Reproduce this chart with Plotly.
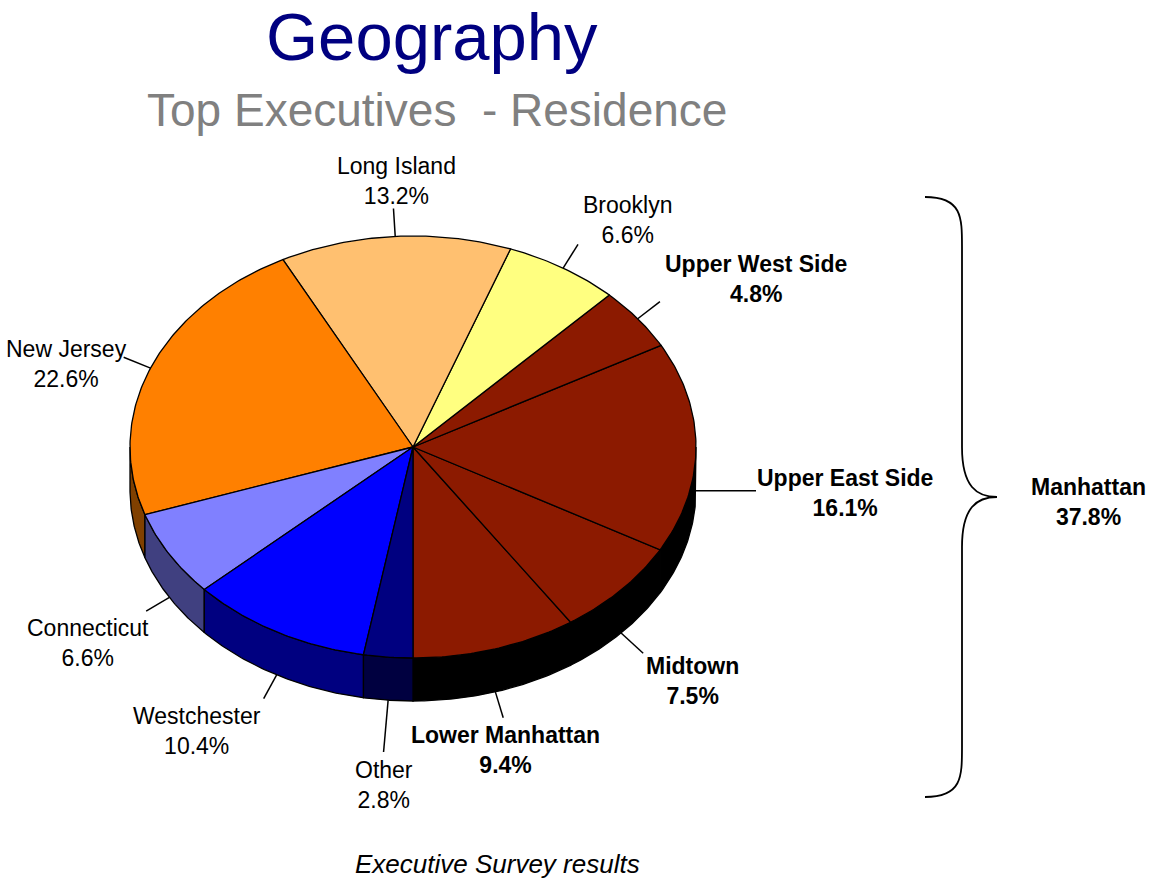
import numpy as np
import plotly.graph_objects as go

# ---- data -------------------------------------------------------------
categories = ["Lower Manhattan", "Midtown", "Upper East Side", "Upper West Side",
              "Brooklyn", "Long Island", "New Jersey", "Connecticut",
              "Westchester", "Other"]
shares = [9.4, 7.5, 16.1, 4.8, 6.6, 13.2, 22.6, 6.6, 10.4, 2.8]
manhattan_areas = ["Lower Manhattan", "Midtown", "Upper East Side", "Upper West Side"]

title_text = "Geography"
subtitle_text = "Top Executives\u00a0 - Residence"
footer_text = "Executive Survey results"

# ---- styling ----------------------------------------------------------
top_colors = {
    "Lower Manhattan": "#8C1A00", "Midtown": "#8C1A00", "Upper East Side": "#8C1A00",
    "Upper West Side": "#8C1A00", "Brooklyn": "#FFFF80", "Long Island": "#FFC070",
    "New Jersey": "#FF8000", "Connecticut": "#8080FF", "Westchester": "#0000FF",
    "Other": "#000080",
}
side_colors = {
    "Lower Manhattan": "#000000", "Midtown": "#000000", "Upper East Side": "#000000",
    "Upper West Side": "#000000", "Brooklyn": "#808040", "Long Island": "#806038",
    "New Jersey": "#804000", "Connecticut": "#404080", "Westchester": "#000080",
    "Other": "#000040",
}
# label placement (pixel canvas) and leader-line length
label_layout = {
    "Lower Manhattan": (505, 750, 27), "Midtown": (692, 681, 30),
    "Upper East Side": (845, 493, 60), "Upper West Side": (756, 279, 28),
    "Brooklyn": (627, 220, 28), "Long Island": (396, 181, 28),
    "New Jersey": (66, 364, 29), "Connecticut": (88, 643, 27),
    "Westchester": (197, 731, 27), "Other": (384, 785, 52),
}

W, H = 1155, 878
CX, CY = 413, 447          # pie centre
RX, RY = 283, 211          # ellipse radii of the top face
DEPTH = 43                 # thickness of the pie
FONT = "Liberation Sans, Arial, sans-serif"
LABEL_SIZE = 23


def rim(theta):
    """Point on the top rim; theta measured from 6 o'clock, turning counter-clockwise."""
    return CX + RX * np.sin(theta), CY + RY * np.cos(theta)


total = sum(shares)
bounds = np.concatenate([[0.0], np.cumsum(shares)]) / total * 2 * np.pi

fig = go.Figure()

# side walls (only the front half of the pie is visible)
front_ranges = [(0.0, np.pi / 2), (1.5 * np.pi, 2 * np.pi)]
for name, a, b in zip(categories, bounds[:-1], bounds[1:]):
    for lo, hi in front_ranges:
        s, e = max(a, lo), min(b, hi)
        if e <= s:
            continue
        t = np.linspace(s, e, 60)
        x, y = rim(t)
        px = np.concatenate([x, x[::-1], x[:1]])
        py = np.concatenate([y, y[::-1] + DEPTH, y[:1]])
        fig.add_trace(go.Scatter(
            x=px, y=py, mode="lines", fill="toself",
            fillcolor=side_colors[name], line=dict(color="black", width=1.3),
            hoverinfo="skip", showlegend=False))

# top faces
for name, a, b in zip(categories, bounds[:-1], bounds[1:]):
    t = np.linspace(a, b, max(8, int((b - a) * 80)))
    x, y = rim(t)
    px = np.concatenate([[CX], x, [CX]])
    py = np.concatenate([[CY], y, [CY]])
    fig.add_trace(go.Scatter(
        x=px, y=py, mode="lines", fill="toself",
        fillcolor=top_colors[name], line=dict(color="black", width=1.3),
        hoverinfo="skip", showlegend=False, name=name))

# leader lines and labels
annotations = []
shapes = []
for name, v, a, b in zip(categories, shares, bounds[:-1], bounds[1:]):
    tm = (a + b) / 2
    sx, sy = rim(tm)
    if np.cos(tm) > 0:
        sy += DEPTH
    lx, ly, length = label_layout[name]
    ex, ey = sx + length * np.sin(tm), sy + length * np.cos(tm)
    shapes.append(dict(type="line", xref="x", yref="y", x0=sx, y0=sy, x1=ex, y1=ey,
                       line=dict(color="black", width=1.5)))
    txt = f"{name}<br>{v:.1f}%"
    if name in manhattan_areas:
        txt = f"<b>{txt}</b>"
    annotations.append(dict(x=lx, y=ly, xref="x", yref="y", text=txt, showarrow=False,
                            xanchor="center", yanchor="middle", align="center",
                            font=dict(family=FONT, size=LABEL_SIZE, color="black")))

# Manhattan total with a curly brace
manhattan_total = sum(v for n, v in zip(categories, shares) if n in manhattan_areas)
bx0, bx1, btip = 925, 962, 997
by0, bym, by1 = 197, 497, 797
brace = (f"M {bx0},{by0} C {bx1},{by0} {bx1},{by0+20} {bx1},{by0+50} "
         f"L {bx1},{bym-50} C {bx1},{bym-10} {btip-20},{bym} {btip},{bym} "
         f"C {btip-20},{bym} {bx1},{bym+10} {bx1},{bym+50} "
         f"L {bx1},{by1-50} C {bx1},{by1-20} {bx1},{by1} {bx0},{by1}")
shapes.append(dict(type="path", xref="x", yref="y", path=brace,
                   line=dict(color="black", width=1.8)))
annotations.append(dict(x=1088, y=502, xref="x", yref="y",
                        text=f"<b>Manhattan<br>{manhattan_total:.1f}%</b>",
                        showarrow=False, xanchor="center", yanchor="middle",
                        font=dict(family=FONT, size=LABEL_SIZE, color="black")))

# titles
annotations.append(dict(x=432, y=36, xref="x", yref="y", text=title_text, showarrow=False,
                        xanchor="center", yanchor="middle",
                        font=dict(family=FONT, size=67, color="#000080")))
annotations.append(dict(x=437, y=110, xref="x", yref="y", text=subtitle_text,
                        showarrow=False, xanchor="center", yanchor="middle",
                        font=dict(family=FONT, size=46, color="#808080")))
annotations.append(dict(x=497, y=864, xref="x", yref="y", text=f"<i>{footer_text}</i>",
                        showarrow=False, xanchor="center", yanchor="middle",
                        font=dict(family=FONT, size=26, color="black")))

fig.update_layout(
    width=W, height=H, margin=dict(l=0, r=0, t=0, b=0),
    paper_bgcolor="white", plot_bgcolor="white",
    xaxis=dict(range=[0, W], visible=False, fixedrange=True),
    yaxis=dict(range=[H, 0], visible=False, fixedrange=True),
    shapes=shapes, annotations=annotations, showlegend=False,
)

fig.write_html("out.html")
